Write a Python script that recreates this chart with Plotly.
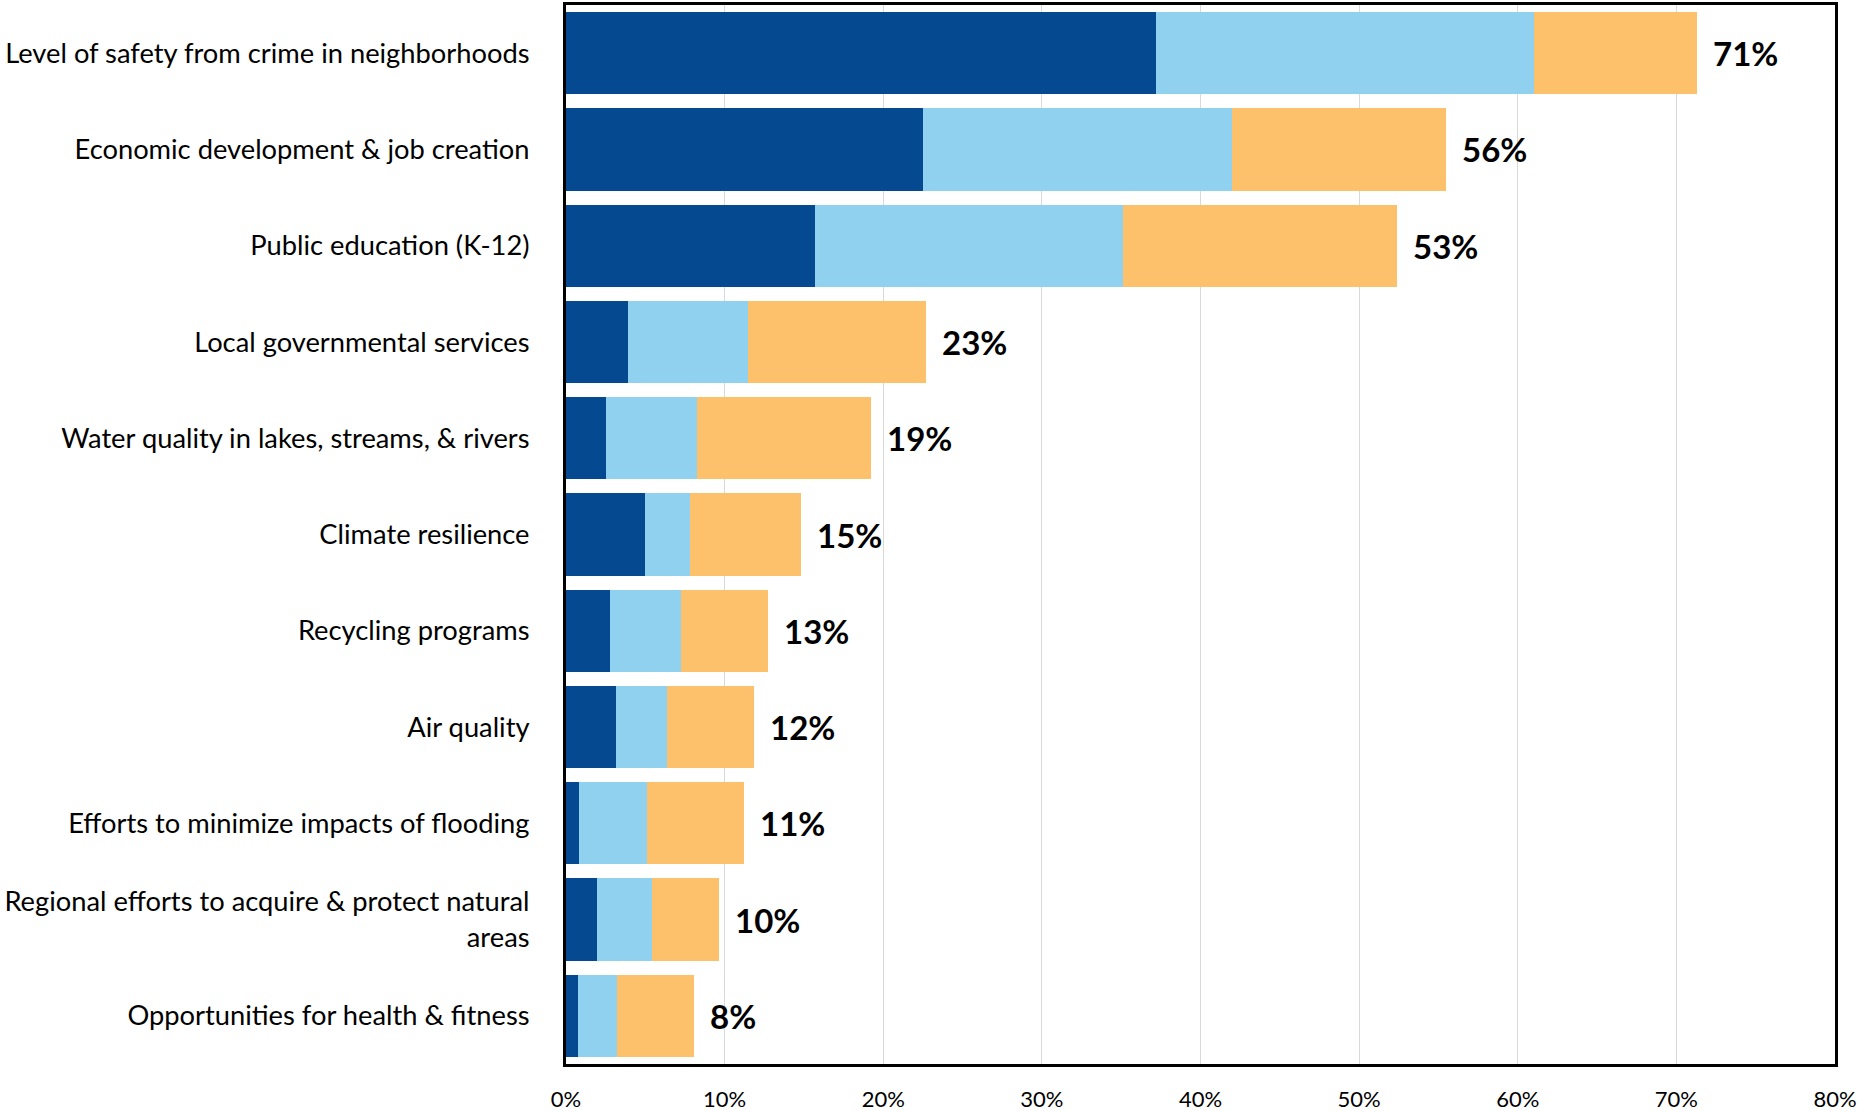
import plotly.graph_objects as go

categories = [
    "Level of safety from crime in neighborhoods",
    "Economic development & job creation",
    "Public education (K-12)",
    "Local governmental services",
    "Water quality in lakes, streams, & rivers",
    "Climate resilience",
    "Recycling programs",
    "Air quality",
    "Efforts to minimize impacts of flooding",
    "Regional efforts to acquire & protect natural<br>areas",
    "Opportunities for health & fitness",
]
first_choice = [37.2, 22.5, 15.7, 3.9, 2.5, 5.0, 2.75, 3.15, 0.8, 1.95, 0.75]
second_choice = [23.8, 19.5, 19.4, 7.55, 5.75, 2.8, 4.5, 3.2, 4.3, 3.5, 2.45]
third_choice = [10.3, 13.5, 17.3, 11.25, 11.0, 7.0, 5.5, 5.5, 6.1, 4.2, 4.9]
total_labels = ["71%", "56%", "53%", "23%", "19%", "15%", "13%", "12%", "11%", "10%", "8%"]
tick_vals = [0, 10, 20, 30, 40, 50, 60, 70, 80]
tick_text = ["0%", "10%", "20%", "30%", "40%", "50%", "60%", "70%", "80%"]

colors = ["#054A91", "#8FD1EE", "#FDC06B"]
names = ["First", "Second", "Third"]

fig = go.Figure()
for vals, col, nm in zip([first_choice, second_choice, third_choice], colors, names):
    fig.add_trace(go.Bar(
        y=categories, x=vals, orientation="h", name=nm,
        marker=dict(color=col, line=dict(width=0)),
        hoverinfo="x+y",
    ))

totals = [a + b + c for a, b, c in zip(first_choice, second_choice, third_choice)]
for cat, tot, lab in zip(categories, totals, total_labels):
    fig.add_annotation(
        x=tot, y=cat, text="<b>" + lab + "</b>", showarrow=False,
        xanchor="left", yanchor="middle", xshift=14,
        font=dict(family="Lato", size=33, color="#000000"),
    )

fig.update_layout(
    barmode="stack",
    bargap=0.145,
    width=1858, height=1111,
    margin=dict(l=566, r=23, t=5, b=47, autoexpand=False),
    plot_bgcolor="white", paper_bgcolor="white",
    showlegend=False,
    font=dict(family="Lato", color="#000000"),
)
fig.update_xaxes(
    range=[0, 80], tickvals=tick_vals, ticktext=tick_text,
    showgrid=True, gridcolor="#D9D9D9", gridwidth=1,
    showline=True, linecolor="black", linewidth=3, mirror=True,
    zeroline=False, tickfont=dict(size=22, family="Lato", color="#000000"),
    ticklabelstandoff=14, automargin=False,
)
fig.update_yaxes(
    autorange="reversed",
    showline=True, linecolor="black", linewidth=3, mirror=True,
    tickfont=dict(size=27.3, family="Lato", color="#000000"),
    ticklabelstandoff=28, automargin=False,
)
fig.write_html(
    "out.html",
    config={"displayModeBar": False},
    post_script="document.body.style.margin='0px';document.body.style.overflow='hidden';",
)
